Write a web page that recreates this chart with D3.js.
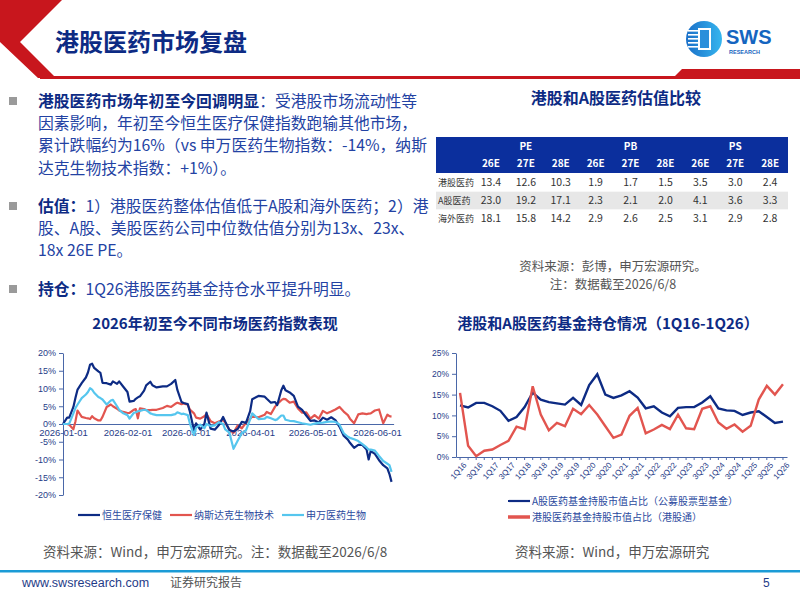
<!DOCTYPE html>
<html>
<head>
<meta charset="utf-8">
<script src="https://cdn.jsdelivr.net/npm/d3@7"></script>
<style>
  body { margin: 0; background: #fff; }
  svg { display: block; font-family: "Noto Sans CJK SC", "Noto Sans", sans-serif; }
  .ax text { font-family: "Liberation Sans", Arial, sans-serif; font-size: 9px; fill: #1f3c88; }
  .ax path, .ax line { stroke: #4a67a8; }
</style>
</head>
<body>
<svg id="slide" width="800" height="600"></svg>
<script>

// ---- index performance YTD (%), left chart
var idxDates = [
  "01-01","01-03","01-04","01-06","01-07","01-08","01-10","01-12","01-13","01-14","01-15","01-16","01-18","01-19","01-20","01-22","01-24","01-25","01-27","01-28","01-30",
  "02-01","02-02","02-04","02-05","02-06","02-07","02-09","02-10","02-12","02-13","02-15","02-18","02-20","02-22","02-24","02-25","02-27","02-28",
  "03-02","03-03","03-05","03-06","03-08","03-10","03-11","03-13","03-15","03-17","03-19","03-20","03-22","03-24","03-26","03-28","03-30",
  "04-01","04-02","04-05","04-08","04-09","04-11","04-13","04-14","04-16","04-17","04-18","04-20","04-22","04-24","04-26","04-28","04-30",
  "05-02","05-04","05-06","05-08","05-10","05-12","05-14","05-16","05-18","05-19","05-21","05-23","05-25","05-27","05-28","05-29","05-31",
  "06-02","06-04","06-06","06-07","06-08"
];
var hsHealth = [
  0,1.8,1.8,4.8,7.4,9.7,11.5,13.1,14.5,16.7,17.0,15.8,14.8,14.4,11.6,11.5,11.1,12.0,11.3,12.0,10.5,
  9.0,6.3,6.5,7.1,7.5,7.8,9.4,10.9,11.9,10.9,10.3,10.6,10.6,11.3,12.4,9.6,6.2,5.9,
  5.6,3.5,-1.8,0.2,-1.6,0.0,3.2,-1.3,-1.6,-0.3,2.0,0.7,-1.7,-2.1,-1.4,0.6,0.3,
  3.6,7.0,7.9,7.7,7.1,6.0,6.2,5.3,9.5,10.8,9.5,8.9,7.9,4.9,4.0,2.4,0.9,
  1.0,0.4,1.8,1.2,1.9,1.1,-0.8,-3.3,-4.4,-5.3,-6.7,-5.9,-5.9,-7.2,-10.0,-7.6,-8.4,
  -10.2,-11.6,-12.5,-14.1,-16.3
];
var nbiBiotech = [
  0,0,-0.2,-1.5,0.8,3.8,2.0,1.7,1.6,1.4,2.2,1.6,1.0,1.0,2.0,4.8,5.5,5.0,4.3,3.8,3.4,
  3.1,3.1,4.0,4.2,1.6,4.4,4.2,3.9,3.9,4.0,4.0,4.5,5.1,4.8,5.7,6.0,5.6,5.8,
  5.4,4.1,3.0,1.8,1.5,2.2,2.8,0.8,0.2,0.7,1.1,0.4,-1.6,-2.5,-0.4,-1.2,0.3,
  1.5,2.1,1.9,2.6,3.4,2.8,4.9,5.6,6.7,7.1,7.0,6.0,6.3,4.4,3.2,3.3,1.5,
  2.5,1.5,3.7,3.0,3.5,4.1,4.8,3.5,2.5,1.5,0.2,2.7,3.0,2.8,2.9,3.0,3.8,
  4.1,0.2,2.6,2.2,2.1
];
var swPharma = [
  0,0,0.1,3.0,4.5,5.5,7.3,8.3,9.0,10.1,9.7,8.8,7.6,7.3,6.9,5.5,6.6,6.8,5.0,4.0,3.0,
  2.5,1.5,3.1,3.3,3.6,3.7,4.0,4.0,3.0,2.8,2.5,2.5,2.5,2.5,2.8,3.3,2.8,2.9,
  2.5,0.2,-3.1,-1.0,-0.2,-1.2,0.0,-0.6,-0.4,0.5,0.0,-1.5,-2.4,-7.0,-4.7,-2.6,-1.8,
  1.3,3.0,1.4,1.5,2.0,1.6,1.1,1.3,2.4,2.4,1.2,0.9,0.8,0.5,0.2,0.0,-0.2,
  0.1,0.3,0.4,0.6,0.7,0.6,-0.2,-2.6,-3.6,-3.9,-4.3,-4.8,-5.7,-6.6,-7.2,-7.2,-7.5,
  -9.0,-10.4,-11.2,-11.6,-13.5
];
var idxNames = ["恒生医疗保健", "纳斯达克生物技术", "申万医药生物"];
var idxTicks = ["01-01","02-01","03-01","04-01","05-01","06-01"];

// ---- fund holdings (%), right chart
var quarters = [
  "1Q16","2Q16","3Q16","4Q16","1Q17","2Q17","3Q17","4Q17","1Q18","2Q18","3Q18","4Q18",
  "1Q19","2Q19","3Q19","4Q19","1Q20","2Q20","3Q20","4Q20","1Q21","2Q21","3Q21","4Q21",
  "1Q22","2Q22","3Q22","4Q22","1Q23","2Q23","3Q23","4Q23","1Q24","2Q24","3Q24","4Q24",
  "1Q25","2Q25","3Q25","4Q25","1Q26"
];
var aShareHold = [12.4,11.9,13.0,13.0,12.2,11.1,8.7,9.6,12.0,15.5,13.8,13.2,12.9,12.6,14.2,12.5,17.3,19.9,15.0,14.2,14.8,15.8,14.3,11.7,12.2,10.7,9.8,11.8,12.0,12.0,13.1,14.6,11.7,11.2,11.1,10.1,10.7,11.0,9.6,8.2,8.5];
var hkConnectHold = [15.4,2.7,0.2,1.5,1.8,2.9,3.9,7.3,6.7,17.0,10.2,6.4,8.2,7.4,11.6,10.3,12.5,10.2,7.4,4.6,5.4,9.9,11.8,5.7,6.6,7.7,6.7,10.2,6.9,6.7,11.6,12.2,8.3,6.8,7.8,6.1,7.5,13.8,17.1,15.0,17.5];
var holdNames = ["A股医药基金持股市值占比（公募股票型基金）", "港股医药基金持股市值占比（港股通）"];

// ---- valuation table
var valGroups = ["PE", "PB", "PS"];
var valYears = ["26E", "27E", "28E"];
var valRows = ["港股医药", "A股医药", "海外医药"];
var valHK = [13.4, 12.6, 10.3, 1.9, 1.7, 1.5, 3.5, 3.0, 2.4];
var valA = [23.0, 19.2, 17.1, 2.3, 2.1, 2.0, 4.1, 3.6, 3.3];
var valOS = [18.1, 15.8, 14.2, 2.9, 2.6, 2.5, 3.1, 2.9, 2.8];

var navy = "#0d2b84", red = "#e2554f", sky = "#56c6ee", textBlue = "#2342a3";

var svg = d3.select("#slide");

// header shapes
svg.append("polygon").attr("points", "0,0 62,0 20,42 56,78 38,78 0,42").attr("fill", "#c8161d");
svg.append("rect").attr("x", 40).attr("y", 76).attr("width", 760).attr("height", 3).attr("fill", "#c8161d");
svg.append("polygon").attr("points", "682,69 800,69 800,79 672,79").attr("fill", "#c8161d");

svg.append("text").attr("x", 55).attr("y", 51)
  .attr("font-size", 24).attr("font-weight", "bold").attr("fill", navy)
  .text("港股医药市场复盘");

// logo
var logo = svg.append("g");
var grad = svg.append("defs").append("linearGradient").attr("id", "lg").attr("x1", 0).attr("x2", 1);
grad.append("stop").attr("offset", "0").attr("stop-color", "#1a6fc8");
grad.append("stop").attr("offset", "1").attr("stop-color", "#36b6ef");
logo.append("circle").attr("cx", 704).attr("cy", 39).attr("r", 18).attr("fill", "url(#lg)");
logo.append("rect").attr("x", 698).attr("y", 28).attr("width", 13).attr("height", 22).attr("fill", "#fff");
[30, 34, 38, 42, 46].forEach(function(y) {
  logo.append("rect").attr("x", 688).attr("y", y).attr("width", 10).attr("height", 1.6).attr("fill", "#fff");
});
logo.append("rect").attr("x", 700).attr("y", 30).attr("width", 9).attr("height", 18).attr("fill", "#2a8fdb");
logo.append("text").attr("x", 726).attr("y", 44).attr("font-family", "Liberation Sans, Arial")
  .attr("font-size", 20).attr("font-weight", "bold").attr("fill", "#1565c0").text("SWS");
logo.append("text").attr("x", 729).attr("y", 54).attr("font-family", "Liberation Sans, Arial")
  .attr("font-size", 5.5).attr("font-weight", "bold").attr("fill", "#1565c0").text("RESEARCH");

// bullet text
var bullets = [
  { y: 101, lines: [[["港股医药市场年初至今回调明显", true], ["：受港股市场流动性等", false]],
                    [["因素影响，年初至今恒生医疗保健指数跑输其他市场，", false]],
                    [["累计跌幅约为16%（vs 申万医药生物指数：-14%，纳斯", false]],
                    [["达克生物技术指数：+1%）。", false]]] },
  { y: 206, lines: [[["估值：", true], ["1）港股医药整体估值低于A股和海外医药；2）港", false]],
                    [["股、A股、美股医药公司中位数估值分别为13x、23x、", false]],
                    [["18x 26E PE。", false]]] },
  { y: 289, lines: [[["持仓：", true], ["1Q26港股医药基金持仓水平提升明显。", false]]] }
];
bullets.forEach(function(b) {
  svg.append("rect").attr("x", 9).attr("y", b.y - 4).attr("width", 8).attr("height", 8).attr("fill", "#9a9a9a");
  b.lines.forEach(function(line, i) {
    var t = svg.append("text").attr("x", 38).attr("y", b.y + 6 + i * 22.2).attr("font-size", 15.8);
    line.forEach(function(seg) {
      t.append("tspan").text(seg[0])
        .attr("font-weight", seg[1] ? "bold" : "normal")
        .attr("fill", seg[1] ? navy : textBlue);
    });
  });
});

// valuation table
svg.append("text").attr("x", 616).attr("y", 104).attr("text-anchor", "middle")
  .attr("font-size", 16).attr("font-weight", "bold").attr("fill", navy).text("港股和A股医药估值比较");

var colX = d3.scaleBand().domain(d3.range(9)).range([473.5, 787.6]);
var rowY = d3.scaleBand().domain(valRows).range([174, 227]);
var tbl = svg.append("g");
tbl.append("rect").attr("x", 436).attr("y", 137).attr("width", 352).attr("height", 36).attr("fill", "#0b2f9d");
tbl.append("rect").attr("x", 436).attr("y", rowY(valRows[1])).attr("width", 352).attr("height", rowY.bandwidth()).attr("fill", "#e7e7e7");
valGroups.forEach(function(g, gi) {
  tbl.append("text").attr("x", colX(gi * 3 + 1) + colX.bandwidth() / 2).attr("y", 150)
    .attr("text-anchor", "middle").attr("font-size", 10).attr("font-weight", "bold").attr("fill", "#fff").text(g);
  valYears.forEach(function(yr, yi) {
    tbl.append("text").attr("x", colX(gi * 3 + yi) + colX.bandwidth() / 2).attr("y", 167)
      .attr("text-anchor", "middle").attr("font-size", 10).attr("font-weight", "bold").attr("fill", "#fff").text(yr);
  });
});
[valHK, valA, valOS].forEach(function(vals, ri) {
  var cy = rowY(valRows[ri]) + rowY.bandwidth() / 2 + 3.5;
  tbl.append("text").attr("x", 438).attr("y", cy).attr("font-size", 9).attr("fill", "#333").text(valRows[ri]);
  vals.forEach(function(v, ci) {
    tbl.append("text").attr("x", colX(ci) + colX.bandwidth() / 2).attr("y", cy)
      .attr("text-anchor", "middle").attr("font-size", 10.5).attr("fill", "#333").text(v.toFixed(1));
  });
});
svg.append("text").attr("x", 613).attr("y", 271).attr("text-anchor", "middle")
  .attr("font-size", 12.5).attr("fill", "#555").text("资料来源：彭博，申万宏源研究。");
svg.append("text").attr("x", 613).attr("y", 289).attr("text-anchor", "middle")
  .attr("font-size", 12.5).attr("fill", "#555").text("注：数据截至2026/6/8");

// chart titles
svg.append("text").attr("x", 215).attr("y", 329).attr("text-anchor", "middle")
  .attr("font-size", 15).attr("font-weight", "bold").attr("fill", navy).text("2026年初至今不同市场医药指数表现");
svg.append("text").attr("x", 608).attr("y", 329).attr("text-anchor", "middle")
  .attr("font-size", 15).attr("font-weight", "bold").attr("fill", navy).text("港股和A股医药基金持仓情况（1Q16-1Q26）");

// ---- left chart
var parseDay = d3.timeParse("%Y-%m-%d");
var dates = idxDates.map(function(s) { return parseDay("2026-" + s); });
var x = d3.scaleTime().domain([parseDay("2026-01-01"), parseDay("2026-06-09")]).range([63, 393.6]);
var y = d3.scaleLinear().domain([-20, 20]).range([495, 353]);

svg.append("g").attr("class", "ax").attr("transform", "translate(63,0)")
  .call(d3.axisLeft(y).tickValues(d3.range(-20, 21, 5)).tickSize(4).tickSizeOuter(0)
    .tickFormat(function(d) { return d + "%"; }));
var xa = svg.append("g").attr("class", "ax").attr("transform", "translate(0," + y(0) + ")")
  .call(d3.axisBottom(x).tickValues(idxTicks.map(function(s) { return parseDay("2026-" + s); }))
    .tickSize(0).tickSizeOuter(0).tickFormat(d3.timeFormat("%Y-%m-%d")));
xa.select(".domain").attr("stroke", "#7d9ad0");
xa.selectAll("text").attr("dy", "0.9em").style("font-size", "9.5px");

var line = d3.line().x(function(d, i) { return x(dates[i]); }).y(function(d) { return y(d); });
[[nbiBiotech, red], [hsHealth, navy], [swPharma, sky]].forEach(function(s) {
  svg.append("path").datum(s[0]).attr("d", line).attr("fill", "none")
    .attr("stroke", s[1]).attr("stroke-width", 2.2).attr("stroke-linejoin", "round");
});

var legX = [78, 170, 282];
[navy, red, sky].forEach(function(c, i) {
  svg.append("line").attr("x1", legX[i]).attr("x2", legX[i] + 22).attr("y1", 515).attr("y2", 515)
    .attr("stroke", c).attr("stroke-width", 2.2);
  svg.append("text").attr("x", legX[i] + 24).attr("y", 519).attr("font-size", 10).attr("fill", "#2b4a9e").text(idxNames[i]);
});
svg.append("text").attr("x", 43).attr("y", 557).attr("font-size", 13.5).attr("fill", "#555")
  .text("资料来源：Wind，申万宏源研究。注：数据截至2026/6/8");

// ---- right chart
var xq = d3.scaleBand().domain(quarters).range([456, 787]);
var yq = d3.scaleLinear().domain([0, 25]).range([457, 353]);
svg.append("g").attr("class", "ax").attr("transform", "translate(456,0)")
  .call(d3.axisLeft(yq).tickValues(d3.range(0, 26, 5)).tickSize(4).tickSizeOuter(0)
    .tickFormat(function(d) { return d + "%"; }))
  .selectAll("text").style("font-size", "8.5px");
var xqa = svg.append("g").attr("class", "ax").attr("transform", "translate(0,457)")
  .call(d3.axisBottom(xq).tickSize(3).tickSizeOuter(0)
    .tickFormat(function(d, i) { return i % 2 === 0 ? d : ""; }));
xqa.selectAll("text").style("font-size", "8px").attr("text-anchor", "end")
  .attr("dx", "-0.2em").attr("dy", "0.6em").attr("transform", "rotate(-48)");

var qline = function(vals) {
  return d3.line().x(function(d, i) { return xq(quarters[i]) + xq.bandwidth() / 2; })
    .y(function(d) { return yq(d); })(vals);
};
svg.append("path").attr("d", qline(aShareHold)).attr("fill", "none").attr("stroke", navy).attr("stroke-width", 2.4);
svg.append("path").attr("d", qline(hkConnectHold)).attr("fill", "none").attr("stroke", red).attr("stroke-width", 2.4);

[[navy, 501, 2.2], [red, 517, 3.5]].forEach(function(l, i) {
  svg.append("line").attr("x1", 508).attr("x2", 530).attr("y1", l[1]).attr("y2", l[1])
    .attr("stroke", l[0]).attr("stroke-width", l[2]);
  svg.append("text").attr("x", 532).attr("y", l[1] + 4).attr("font-size", 10).attr("fill", "#2b4a9e").text(holdNames[i]);
});
svg.append("text").attr("x", 515).attr("y", 557).attr("font-size", 13.5).attr("fill", "#555")
  .text("资料来源：Wind，申万宏源研究");

// footer
svg.append("rect").attr("x", 0).attr("y", 570).attr("width", 800).attr("height", 2.5).attr("fill", "#1b9bd6");
svg.append("text").attr("x", 22).attr("y", 587).attr("font-family", "Liberation Sans, Arial")
  .attr("font-size", 12.5).attr("fill", "#1f3c88").text("www.swsresearch.com");
svg.append("text").attr("x", 170).attr("y", 587).attr("font-size", 12).attr("fill", "#555").text("证券研究报告");
svg.append("text").attr("x", 763).attr("y", 587).attr("font-family", "Liberation Sans, Arial")
  .attr("font-size", 12).attr("fill", "#1f3c88").text("5");
</script>
</body>
</html>
